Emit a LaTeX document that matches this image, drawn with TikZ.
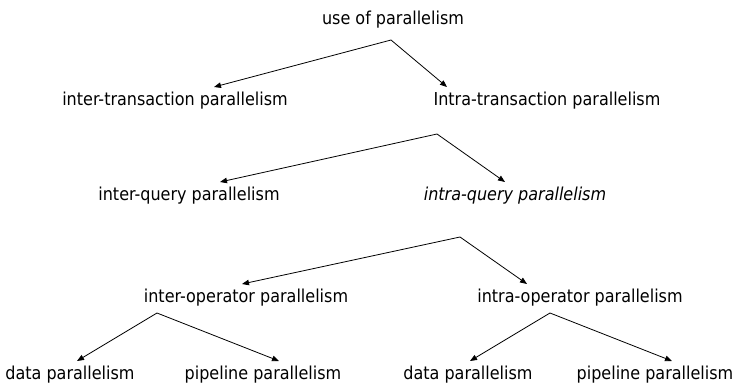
\documentclass[tikz,border=0pt]{standalone}
\usepackage{fontspec}
\setmainfont{DejaVu Sans Condensed}
\usetikzlibrary{arrows.meta}
\begin{document}
\begin{tikzpicture}[x=1pt,y=-1pt,
  lbl/.style={inner sep=0pt,font=\fontsize{17.8}{20}\selectfont},
  arr/.style={line width=0.8pt,-{Triangle[length=7pt,width=5.5pt]}}]
\useasboundingbox (0,0) rectangle (735,386);
% nodes
\node[lbl] (use) at (393,20) {use of parallelism};
\node[lbl] (itr) at (175,101) {inter-transaction parallelism};
\node[lbl] (ntr) at (547,101) {Intra-transaction parallelism};
\node[lbl] (iq) at (189,196) {inter-query parallelism};
\node[lbl,font=\fontsize{17.8}{20}\selectfont\itshape] (nq) at (515,196) {intra-query parallelism};
\node[lbl] (iop) at (246,298) {inter-operator parallelism};
\node[lbl] (nop) at (580,298) {intra-operator parallelism};
\node[lbl] (d1) at (70,375) {data parallelism};
\node[lbl] (p1) at (263,375) {pipeline parallelism};
\node[lbl] (d2) at (468,375) {data parallelism};
\node[lbl] (p2) at (655,375) {pipeline parallelism};
% apex points
\coordinate (a1) at (391,40);
\coordinate (a2) at (437,134);
\coordinate (a3) at (460,237);
\coordinate (a4) at (157,313);
\coordinate (a5) at (550,313);
% tips
\coordinate (t1) at (214,87);
\coordinate (t2) at (447,87);
\coordinate (t3) at (220,182);
\coordinate (t4) at (505,182);
\coordinate (t5) at (242,284);
\coordinate (t6) at (527,284);
\coordinate (t7) at (77,361);
\coordinate (t8) at (279,361);
\coordinate (t9) at (470,361);
\coordinate (t10) at (672,361);
% connectors
\draw[arr] (a1) -- (t1);
\draw[arr] (a1) -- (t2);
\draw[arr] (a2) -- (t3);
\draw[arr] (a2) -- (t4);
\draw[arr] (a3) -- (t5);
\draw[arr] (a3) -- (t6);
\draw[arr] (a4) -- (t7);
\draw[arr] (a4) -- (t8);
\draw[arr] (a5) -- (t9);
\draw[arr] (a5) -- (t10);
\end{tikzpicture}
\end{document}
